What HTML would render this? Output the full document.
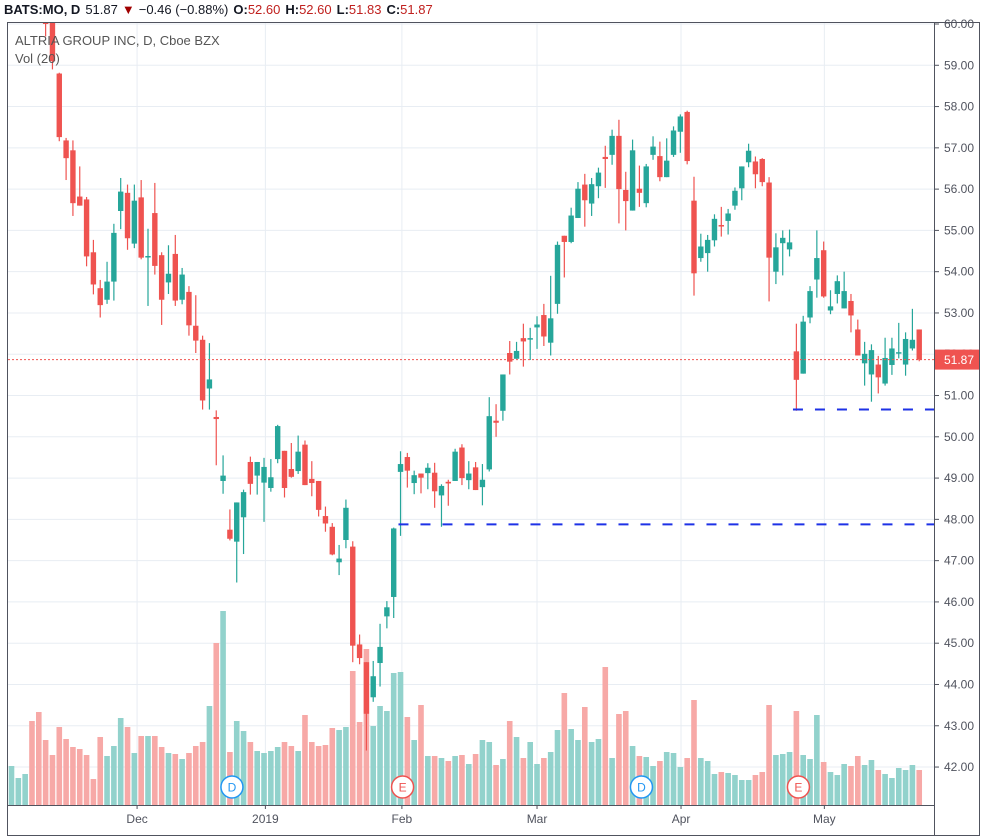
<!DOCTYPE html>
<html><head><meta charset="utf-8">
<style>
html,body{margin:0;padding:0;background:#fff;}
body{width:987px;height:838px;overflow:hidden;font-family:"Liberation Sans",sans-serif;}
svg{display:block}
</style></head>
<body>
<svg id="chart" width="987" height="838" viewBox="0 0 987 838" xmlns="http://www.w3.org/2000/svg">
  <defs><clipPath id="plotclip"><rect x="8" y="23" width="926" height="782"/></clipPath></defs>
  <g id="grid"></g>
  <g id="vol" clip-path="url(#plotclip)"></g>
  <g id="candles" clip-path="url(#plotclip)"></g>
  <g id="overlays"></g>
  <g id="axes"></g>
  <text x="4" y="14" font-size="13" fill="#131722"><tspan font-weight="bold">BATS:MO, D</tspan><tspan dx="5">51.87</tspan><tspan fill="#a00000" dx="4">▼</tspan><tspan dx="4">−0.46 (−0.88%)</tspan><tspan dx="5" font-weight="bold">O:</tspan><tspan fill="#c0201e">52.60</tspan><tspan dx="5" font-weight="bold">H:</tspan><tspan fill="#c0201e">52.60</tspan><tspan dx="5" font-weight="bold">L:</tspan><tspan fill="#c0201e">51.83</tspan><tspan dx="5" font-weight="bold">C:</tspan><tspan fill="#c0201e">51.87</tspan></text>
  <text x="15" y="45" font-size="13" fill="#555">ALTRIA GROUP INC, D, Cboe BZX</text>
  <text x="15" y="63" font-size="13" fill="#555">Vol (20)</text>
</svg>
<script>
const opens  = [61.0,61.5,61.8,62.0,61.2,60.2,60.3,58.8,57.18,56.94,55.82,55.75,54.47,53.6,53.32,53.76,55.47,55.91,54.68,55.8,54.35,55.42,54.4,53.74,54.43,53.32,53.51,52.69,52.35,51.17,50.48,48.93,47.75,47.46,48.05,49.39,49.06,48.89,48.76,49.46,49.66,49.22,49.17,49.81,48.98,48.93,48.08,47.82,46.96,47.5,47.34,44.97,44.54,43.69,44.52,45.65,46.12,49.15,49.51,48.88,49.11,49.12,49.13,48.58,48.91,48.93,49.74,48.95,49.26,48.78,49.21,50.39,50.63,52.03,51.89,52.39,52.37,52.65,52.95,52.28,53.22,54.87,54.72,55.3,56.11,55.65,56.07,56.78,56.83,57.29,55.98,55.48,56.01,55.66,56.83,56.8,56.29,56.83,57.39,57.87,55.72,54.33,54.45,54.76,55.13,55.23,55.6,56.02,56.65,56.67,56.73,56.16,54.0,54.69,54.54,52.07,51.53,52.89,53.81,54.52,53.06,53.46,53.11,53.29,52.6,51.78,51.51,51.75,51.29,51.74,52.03,51.75,52.14,52.6];
const highs  = [61.7,62.0,62.2,62.3,61.4,60.5,60.5,58.82,57.24,57.18,56.55,55.81,54.77,53.8,54.24,55.16,56.27,56.11,56.11,56.22,55.04,56.15,54.47,54.64,54.89,54.09,53.65,53.43,52.45,52.27,50.64,49.55,48.24,48.41,48.72,49.52,49.39,49.49,49.46,50.29,49.66,49.85,50.03,49.91,49.41,48.93,48.31,47.91,47.38,48.48,47.47,45.21,44.54,44.57,45.47,46.02,47.8,49.65,49.61,49.18,49.11,49.36,49.37,48.85,48.96,49.71,49.82,49.41,49.39,49.34,50.96,50.79,51.51,52.32,52.3,52.74,52.64,52.92,53.22,53.9,54.73,54.87,55.55,56.17,56.37,56.27,56.52,57.05,57.44,57.68,56.42,57.2,56.57,56.61,57.28,57.15,57.23,57.52,57.81,57.9,56.3,54.92,54.89,55.39,55.57,55.52,56.04,56.55,57.1,56.79,56.75,56.29,54.93,55.0,55.02,52.74,52.93,53.65,55.0,54.73,53.55,53.91,54.0,53.46,52.84,52.3,52.24,51.96,52.4,52.4,52.76,52.53,53.1,52.6];
const lows   = [60.8,61.3,61.6,61.1,60.3,59.7,58.9,57.16,56.22,55.35,55.6,54.13,53.45,52.89,53.22,53.3,55.03,54.53,54.57,54.3,53.17,53.93,52.71,53.46,53.17,53.21,52.45,52.03,50.66,50.66,49.31,48.62,47.49,46.47,47.16,48.6,48.6,47.94,48.67,49.36,48.53,49.01,49.1,48.83,48.56,48.07,47.7,47.13,46.65,47.3,44.54,44.49,42.4,43.58,43.95,45.36,45.61,47.6,48.77,48.61,48.63,48.73,48.28,47.82,48.33,48.93,48.83,48.73,48.71,48.34,49.16,50.0,50.39,51.51,51.89,51.7,51.86,52.13,52.2,51.97,52.98,53.86,54.69,55.3,55.09,55.35,55.78,56.03,56.59,55.17,55.0,55.48,55.57,55.56,56.71,56.19,56.29,56.78,56.88,56.6,53.42,54.24,54.0,54.61,54.85,54.9,55.5,55.73,56.53,56.02,56.07,53.28,53.7,53.91,54.37,50.63,51.53,52.75,53.37,53.37,52.97,53.23,53.11,52.53,51.97,51.24,50.85,51.05,51.24,51.5,51.9,51.48,52.09,51.83];
const closes = [61.5,61.8,62.0,61.2,60.4,60.0,59.1,57.26,56.75,55.66,55.6,54.37,53.69,53.19,53.76,54.94,55.94,54.81,55.72,54.34,54.38,54.14,53.32,53.95,53.3,53.93,52.7,52.33,50.88,51.39,50.43,49.06,47.53,48.41,48.66,48.86,49.39,49.27,49.02,50.26,48.76,49.03,49.64,48.83,48.88,48.23,47.9,47.15,47.05,48.28,44.94,44.64,43.29,44.2,44.91,45.87,47.78,49.34,49.18,49.07,49.01,49.25,48.68,48.81,48.87,49.64,49.0,49.11,48.71,48.96,50.5,50.34,51.51,51.82,52.08,52.31,52.39,52.72,52.43,52.87,54.65,54.72,55.36,56.01,55.73,56.12,56.4,56.73,57.29,56.0,55.71,56.94,55.91,56.55,57.03,56.29,56.69,57.42,57.76,56.68,53.96,54.61,54.77,55.28,55.1,55.41,55.96,56.55,56.93,56.36,56.17,54.34,54.59,54.82,54.71,51.38,52.79,53.53,54.33,53.4,53.16,53.77,53.53,52.94,51.97,52.01,52.1,51.44,51.91,52.14,52.05,52.37,52.35,51.87];
const volumes = [3.9,2.7,3.1,8.4,9.3,6.5,5.0,7.8,6.6,5.8,5.6,5.0,2.6,6.8,4.9,5.9,8.7,7.8,5.2,6.9,6.9,6.9,5.8,5.2,5.1,4.6,5.2,5.9,6.3,9.9,16.2,19.4,5.3,8.4,7.4,6.3,5.4,5.2,5.4,5.8,6.3,5.9,5.4,9.0,6.3,5.9,6.0,7.7,7.5,7.8,13.4,8.3,15.6,7.9,9.9,9.4,13.2,13.3,8.8,6.5,10.0,4.9,4.9,4.7,4.4,4.9,5.0,4.1,5.1,6.5,6.3,4.0,4.6,8.4,6.8,4.7,6.3,4.1,4.7,5.3,7.5,11.2,7.6,6.5,9.8,6.3,6.6,13.8,4.7,9.1,9.4,5.9,4.9,4.8,3.9,4.4,5.3,5.2,3.8,4.7,10.5,4.7,4.4,3.1,3.3,3.2,3.0,2.5,2.5,3.0,3.3,10.0,5.0,5.1,5.3,9.4,5.0,4.6,9.0,4.3,3.3,3.0,4.1,3.9,4.9,4.0,4.5,3.5,3.1,2.7,3.7,3.5,4.0,3.5];
const priceTicks = [60,59,58,57,56,55,54,53,52,51,50,49,48,47,46,45,44,43,42];
const monthLabels = ["Dec","2019","Feb","Mar","Apr","May"];
const monthStartIdx = [18.4,37.2,57.2,77.0,98.1,119.1];
const supportLevels = [50.66,47.88];
const supportStartIdx = [114.5,56.7];
const events = ["D","E","D","E"];
const eventIdx = [32.3,57.3,92.3,115.3];
const lastPrice = 51.87;

const NS="http://www.w3.org/2000/svg";
const X0=11.5, DX=6.825, Y60=24, PPD=41.28, VBASE=805, VPX=10;
const xAt=i=>X0+DX*i;
const yP=p=>Y60+(60-p)*PPD;
const yV=v=>VBASE-v*VPX;
function mk(tag,attrs,parent){const e=document.createElementNS(NS,tag);for(const k in attrs)e.setAttribute(k,attrs[k]);parent.appendChild(e);return e;}
const grid=document.getElementById('grid'),vol=document.getElementById('vol'),cg=document.getElementById('candles'),ov=document.getElementById('overlays'),ax=document.getElementById('axes');

priceTicks.forEach(p=>{const l=mk('line',{x1:8,x2:934,y1:yP(p),y2:yP(p),stroke:'#e8edf3','stroke-width':1},grid);

});
monthStartIdx.forEach(i=>{const l=mk('line',{x1:xAt(i),x2:xAt(i),y1:23,y2:805,stroke:'#e8edf3','stroke-width':1},grid);

});

volumes.forEach((v,i)=>{const up=closes[i]>=opens[i];
const r=mk('rect',{x:xAt(i)-2.8,y:yV(v),width:5.6,height:v*VPX,fill:up?'#92d2cc':'#f7a9a7'},vol);

});

opens.forEach((o,i)=>{const c=closes[i],up=c>=o,col=up?'#26a69a':'#ef5350',x=xAt(i);
const g=mk('g',{},cg);


mk('line',{x1:x,x2:x,y1:yP(highs[i]),y2:yP(lows[i]),stroke:col,'stroke-width':1.2},g);
const top=Math.min(yP(o),yP(c)),h=Math.max(1.5,Math.abs(yP(o)-yP(c)));
mk('rect',{x:x-2.7,y:top,width:5.4,height:h,fill:col},g);});

supportLevels.forEach((p,k)=>{const l=mk('line',{x1:xAt(supportStartIdx[k]),x2:934,y1:yP(p),y2:yP(p),stroke:'#1e32e6','stroke-width':2,'stroke-dasharray':'10 12'},ov);

});

const lp=mk('line',{x1:8,x2:934,y1:yP(lastPrice),y2:yP(lastPrice),stroke:'#ef5350','stroke-width':1,'stroke-dasharray':'2 2'},ov);



events.forEach((e,k)=>{const isD=e==='D',x=xAt(eventIdx[k]),y=787;const col=isD?'#2196f3':'#ef5350';
const g=mk('g',{},ov);


mk('circle',{cx:x,cy:y,r:11,fill:'#fff',stroke:col,'stroke-width':1.5},g);
const t=mk('text',{x:x,y:y+4.5,'text-anchor':'middle','font-size':12,fill:col},g);t.textContent=e;});

mk('line',{x1:7,x2:980,y1:22.5,y2:22.5,stroke:'#50535e','stroke-width':1},ax);
mk('line',{x1:7.5,x2:7.5,y1:22,y2:836,stroke:'#50535e','stroke-width':1},ax);
mk('line',{x1:979.5,x2:979.5,y1:22,y2:836,stroke:'#50535e','stroke-width':1},ax);
mk('line',{x1:7,x2:980,y1:835.5,y2:835.5,stroke:'#50535e','stroke-width':1},ax);
mk('line',{x1:934.5,x2:934.5,y1:22,y2:836,stroke:'#50535e','stroke-width':1},ax);
mk('line',{x1:7,x2:935,y1:805.5,y2:805.5,stroke:'#50535e','stroke-width':1},ax);
priceTicks.forEach(p=>{mk('line',{x1:935,x2:939,y1:yP(p),y2:yP(p),stroke:'#50535e'},ax);
const t=mk('text',{x:944,y:yP(p)+4,'font-size':12,fill:'#50535e'},ax);


t.textContent=p.toFixed(2);});
monthLabels.forEach((m,k)=>{const x=xAt(monthStartIdx[k]);mk('line',{x1:x,x2:x,y1:805,y2:809,stroke:'#50535e'},ax);
const t=mk('text',{x:x,y:823,'text-anchor':'middle','font-size':12,fill:'#50535e'},ax);


t.textContent=m;});
const lb=mk('rect',{x:935,y:yP(lastPrice)-10,width:44,height:20,fill:'#ef5350'},ax);


const lt=mk('text',{x:944,y:yP(lastPrice)+4.5,'font-size':12,fill:'#fff'},ax);lt.textContent=lastPrice.toFixed(2);
</script>
</body></html>
